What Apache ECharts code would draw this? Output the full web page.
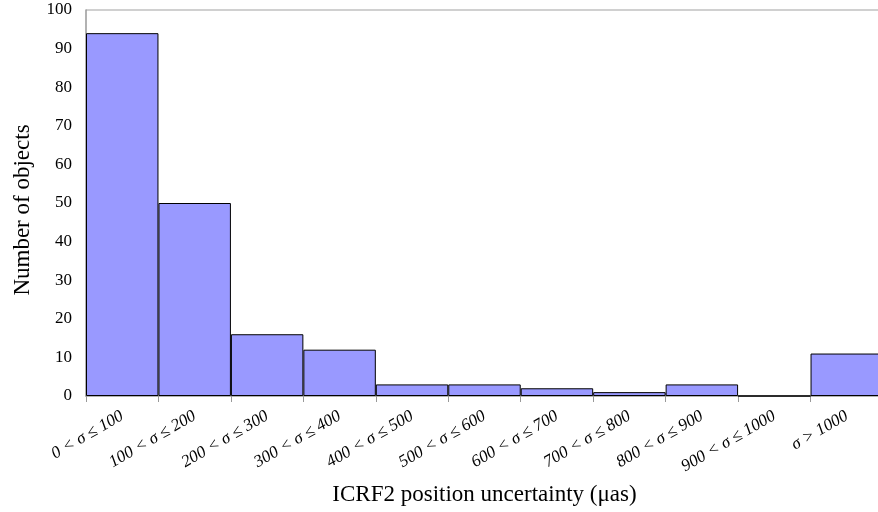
<!DOCTYPE html>
<html><head><meta charset="utf-8">
<script src="https://cdn.jsdelivr.net/npm/echarts@6/dist/echarts.min.js"></script>
<style>html,body{margin:0;padding:0;background:#fff}#c{width:878px;height:512px}</style>
</head><body><div id="c"></div>
<script>
const categories = ['0 < σ ≤ 100','100 < σ ≤ 200','200 < σ ≤ 300','300 < σ ≤ 400','400 < σ ≤ 500','500 < σ ≤ 600','600 < σ ≤ 700','700 < σ ≤ 800','800 < σ ≤ 900','900 < σ ≤ 1000','σ > 1000'];
const counts = [94, 50, 16, 12, 3, 3, 2, 1, 3, 0, 11];
const yTicks = {min: 0, max: 100, interval: 10};
const xName = 'ICRF2 position uncertainty (μas)';
const yName = 'Number of objects';

const chart = echarts.init(document.getElementById('c'));
const serif = '"Liberation Serif", "DejaVu Serif", serif';
chart.setOption({
  animation: false,
  grid: {left: 86, top: 10, width: 797, height: 386, show: false, containLabel: false, outerBoundsMode: 'none'},
  xAxis: {
    type: 'category', data: categories, boundaryGap: true,
    name: xName, nameLocation: 'middle', nameGap: 87,
    nameTextStyle: {fontFamily: serif, fontSize: 23, color: '#000'},
    axisLine: {lineStyle: {color: '#999', width: 1.5}},
    axisTick: {show: true, length: 6, lineStyle: {color: '#999'}},
    axisLabel: {rotate: 30, fontFamily: serif, fontStyle: 'italic', fontSize: 17, color: '#000', margin: 19, interval: 0}
  },
  yAxis: {
    type: 'value', min: yTicks.min, max: yTicks.max, interval: yTicks.interval,
    name: yName, nameLocation: 'middle', nameGap: 52,
    nameTextStyle: {fontFamily: serif, fontSize: 23, color: '#000', padding: [0, 14, 0, 0]},
    axisLine: {show: true, lineStyle: {color: '#999', width: 1.5}},
    axisTick: {show: false},
    splitLine: {show: false},
    axisLabel: {fontFamily: serif, fontSize: 17, color: '#000', margin: 14}
  },
  series: [{
    type: 'bar', data: counts, barWidth: '100%', barCategoryGap: '0%',
    itemStyle: {color: '#9999ff', borderColor: '#000', borderWidth: 1}
  }],
  graphic: []
});
const y100 = chart.convertToPixel({yAxisIndex: 0}, yTicks.max);
chart.setOption({graphic: [{type: 'line', shape: {x1: 86, y1: y100, x2: 883, y2: y100}, style: {stroke: '#c0c0c0', lineWidth: 1.5}}]});
</script></body></html>
